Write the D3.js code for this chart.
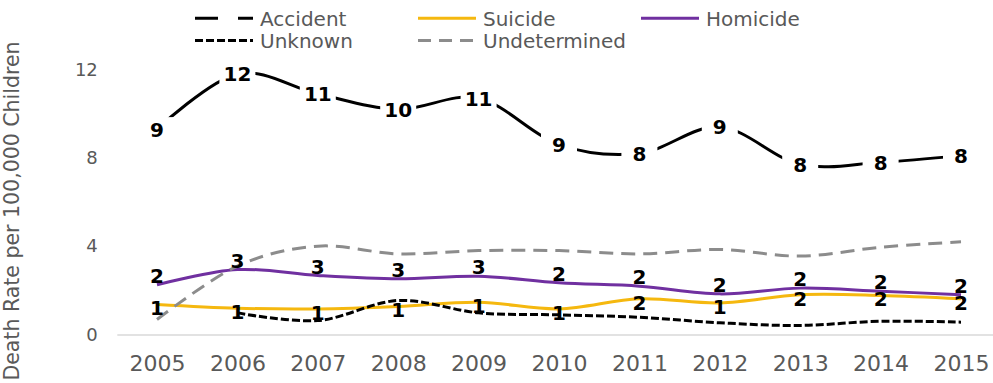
<!DOCTYPE html>
<html>
<head>
<meta charset="utf-8">
<script src="https://cdn.jsdelivr.net/npm/d3@7/dist/d3.min.js"></script>
<style>
  body { margin: 0; background: #fff; }
  text { font-family: "DejaVu Sans", Verdana, sans-serif; }
</style>
</head>
<body>
<svg id="chart" width="993" height="383"></svg>
<script>
// Child death rates per 100,000 children, by manner of death
const years = ["2005", "2006", "2007", "2008", "2009", "2010", "2011", "2012", "2013", "2014", "2015"];
const accident     = [9.3, 11.8, 10.9, 10.2, 10.7, 8.6, 8.2, 9.4, 7.7, 7.8, 8.1];
const suicide      = [1.36, 1.19, 1.16, 1.27, 1.46, 1.16, 1.62, 1.43, 1.80, 1.77, 1.62];
const homicide     = [2.25, 2.94, 2.67, 2.52, 2.64, 2.34, 2.19, 1.84, 2.10, 1.96, 1.80];
const unknown      = [null, 0.98, 0.63, 1.54, 0.98, 0.89, 0.78, 0.53, 0.41, 0.60, 0.56];
const undetermined = [0.68, 3.1, 4.0, 3.65, 3.8, 3.8, 3.65, 3.85, 3.55, 3.95, 4.2];
const yTicks = [0, 4, 8, 12];
const yTitle = "Death Rate per 100,000 Children";

// Series styling, in drawing order (later series sit on top)
const series = [
  { name: "Accident",     values: accident,     color: "#000000", dash: null,   legendDash: "23,20", label: "box" },
  { name: "Suicide",      values: suicide,      color: "#F5B80F", dash: null,   legendDash: null,    label: "below" },
  { name: "Homicide",     values: homicide,     color: "#7030A0", dash: null,   legendDash: null,    label: "above" },
  { name: "Unknown",      values: unknown,      color: "#000000", dash: "8,3",  legendDash: "8,3",   label: null },
  { name: "Undetermined", values: undetermined, color: "#8C8C8C", dash: "14,8", legendDash: "13,8",  label: null }
];

const svg = d3.select("#chart");
const textGrey = "#595959";

const x = d3.scalePoint().domain(years).range([116.8, 1001.2]).padding(0.5);
const y = d3.scaleLinear().domain([0, 12]).range([334.5, 69.5]);

// Axes
const xAxis = svg.append("g")
  .attr("transform", `translate(0,${y(0)})`)
  .call(d3.axisBottom(x).tickSize(0).tickSizeOuter(0).tickPadding(21));
xAxis.select(".domain").attr("stroke", "#D9D9D9").attr("stroke-width", 1.5);
xAxis.selectAll("text")
  .attr("fill", textGrey).style("font-size", "22px")
  .style("font-family", "'DejaVu Sans', Verdana, sans-serif");

const yAxis = svg.append("g")
  .attr("transform", `translate(116.8,0)`)
  .call(d3.axisLeft(y).tickValues(yTicks).tickSize(0).tickPadding(19).tickFormat(d3.format("d")));
yAxis.select(".domain").remove();
yAxis.selectAll("text")
  .attr("fill", textGrey).style("font-size", "18px")
  .style("font-family", "'DejaVu Sans', Verdana, sans-serif");

svg.append("text")
  .attr("transform", `translate(19,211) rotate(-90)`)
  .attr("text-anchor", "middle")
  .attr("fill", textGrey)
  .style("font-size", "20.5px")
  .text(yTitle);

// Lines
const line = d3.line()
  .defined(d => d.v != null)
  .x(d => x(d.year))
  .y(d => y(d.v))
  .curve(d3.curveCardinal.tension(0));

const rows = s => years.map((yr, i) => ({ year: yr, v: s.values[i] }));

svg.append("g").selectAll("path")
  .data(series)
  .join("path")
  .attr("d", s => line(rows(s)))
  .attr("fill", "none")
  .attr("stroke", s => s.color)
  .attr("stroke-width", 3)
  .attr("stroke-dasharray", s => s.dash)
  .attr("stroke-linejoin", "round");

// Data labels
const fmt = d3.format(".0f");
const labelLayer = svg.append("g");
series.filter(s => s.label).forEach(s => {
  const pts = rows(s).filter(d => d.v != null);
  const g = labelLayer.append("g");
  if (s.label === "box") {
    g.selectAll("rect")
      .data(pts)
      .join("rect")
      .attr("x", d => x(d.year) - 18)
      .attr("y", d => y(d.v) - 12)
      .attr("width", 36)
      .attr("height", 24)
      .attr("fill", "#fff");
  }
  g.selectAll("text")
    .data(pts)
    .join("text")
    .attr("x", d => x(d.year))
    .attr("y", d => {
      if (s.label === "box") return y(d.v) + 7.5;
      if (s.label === "above") return y(d.v) - 2;
      return y(d.v) + 11;
    })
    .attr("text-anchor", "middle")
    .attr("fill", "#000")
    .style("font-size", "20px")
    .style("font-weight", "bold")
    .text(d => fmt(d.v));
});

// Legend
const legendItems = [
  { s: series[0], col: 0, row: 0 },
  { s: series[1], col: 1, row: 0 },
  { s: series[2], col: 2, row: 0 },
  { s: series[3], col: 0, row: 1 },
  { s: series[4], col: 1, row: 1 }
];
const legend = svg.append("g");
const colX = [195, 418, 641];
const rowY = [18.3, 40.5];
legendItems.forEach(it => {
  const lx = colX[it.col], ly = rowY[it.row];
  legend.append("line")
    .attr("x1", lx).attr("x2", lx + 58)
    .attr("y1", ly).attr("y2", ly)
    .attr("stroke", it.s.color)
    .attr("stroke-width", 3)
    .attr("stroke-dasharray", it.s.legendDash);
  legend.append("text")
    .attr("x", lx + 65)
    .attr("y", ly + 7.5)
    .attr("fill", textGrey)
    .style("font-size", "20px")
    .text(it.s.name);
});
</script>
</body>
</html>
